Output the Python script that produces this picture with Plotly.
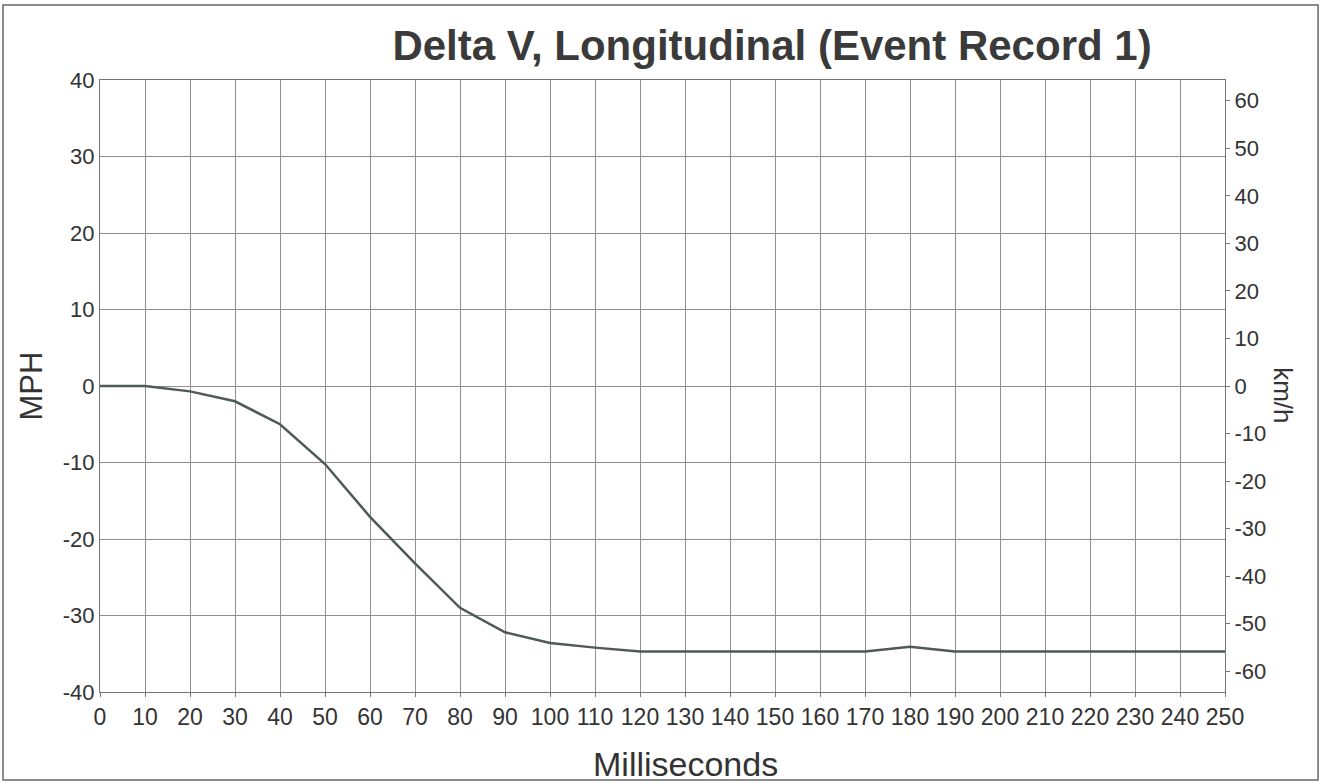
import plotly.graph_objects as go

ms = [0, 10, 20, 30, 40, 50, 60, 70, 80, 90, 100, 110, 120, 130, 140, 150, 160,
      170, 180, 190, 200, 210, 220, 230, 240, 250]
mph = [0, 0, -0.7, -2.0, -5.0, -10.2, -17.1, -23.2, -29.0, -32.2, -33.6, -34.2,
       -34.7, -34.7, -34.7, -34.7, -34.7, -34.7, -34.1, -34.7, -34.7, -34.7,
       -34.7, -34.7, -34.7, -34.7]
x_ticks = list(range(0, 251, 10))
mph_ticks = [-40, -30, -20, -10, 0, 10, 20, 30, 40]
kmh_ticks = [-60, -50, -40, -30, -20, -10, 0, 10, 20, 30, 40, 50, 60]
KMH_PER_MPH = 1.609344

font = "Liberation Sans, Arial, sans-serif"
grid = "#8f8f8f"
ink = "#333333"

fig = go.Figure()
fig.add_trace(go.Scatter(x=ms, y=mph, mode="lines",
                         line=dict(color="#4d5a56", width=2.5),
                         showlegend=False, hoverinfo="x+y"))
# invisible trace for secondary axis
fig.add_trace(go.Scatter(x=[ms[0]], y=[0], yaxis="y2", mode="markers",
                         marker=dict(opacity=0), showlegend=False, hoverinfo="skip"))

fig.update_layout(
    width=1322, height=784,
    margin=dict(l=100, r=97, t=80, b=92),
    paper_bgcolor="white", plot_bgcolor="white",
    font=dict(family=font, color=ink, size=23),
    title=dict(text="<b>Delta V, Longitudinal (Event Record 1)</b>",
               xref="container", x=0.584, xanchor="center", y=0.942, yanchor="middle",
               font=dict(size=42, color="#3a3a3a", family=font)),
    xaxis=dict(range=[0, 250], tickvals=x_ticks, ticktext=[str(v) for v in x_ticks],
               ticks="outside", ticklen=4, tickcolor="#777",
               showgrid=True, gridcolor=grid, gridwidth=1.3,
               showline=True, linecolor="#777", mirror=True, zeroline=False,
               tickfont=dict(size=23)),
    yaxis=dict(range=[-40, 40], tickvals=mph_ticks,
               ticktext=[str(v) for v in mph_ticks], ticks="", showgrid=True,
               gridcolor=grid, gridwidth=1.3, zeroline=False,
               showline=True, linecolor="#777", mirror=True,
               tickfont=dict(size=22),
               title=dict(text="MPH", font=dict(size=31), standoff=10)),
    yaxis2=dict(range=[-40 * KMH_PER_MPH, 40 * KMH_PER_MPH], tickvals=kmh_ticks,
                ticktext=[str(v) for v in kmh_ticks],
                overlaying="y", side="right", showgrid=False, zeroline=False,
                ticks="outside", ticklen=4, tickcolor="#777",
                tickfont=dict(size=22), showline=False),
    shapes=[dict(type="rect", xref="paper", yref="paper",
                 x0=-0.0862, x1=1.0827, y0=-0.1438, y1=1.1225,
                 line=dict(color="#666", width=1.5))],
    annotations=[
        dict(text="km/h", xref="paper", yref="paper",
             x=1.0, xshift=75, y=0.485, textangle=90,
             showarrow=False, font=dict(size=26, color=ink)),
        dict(text="Milliseconds", xref="paper", yref="paper",
             x=(685 - 100) / 1125, y=(692 - 764) / 612, xanchor="center",
             yanchor="middle", showarrow=False, font=dict(size=34, color=ink)),
    ],
)

fig.write_html("out.html")
